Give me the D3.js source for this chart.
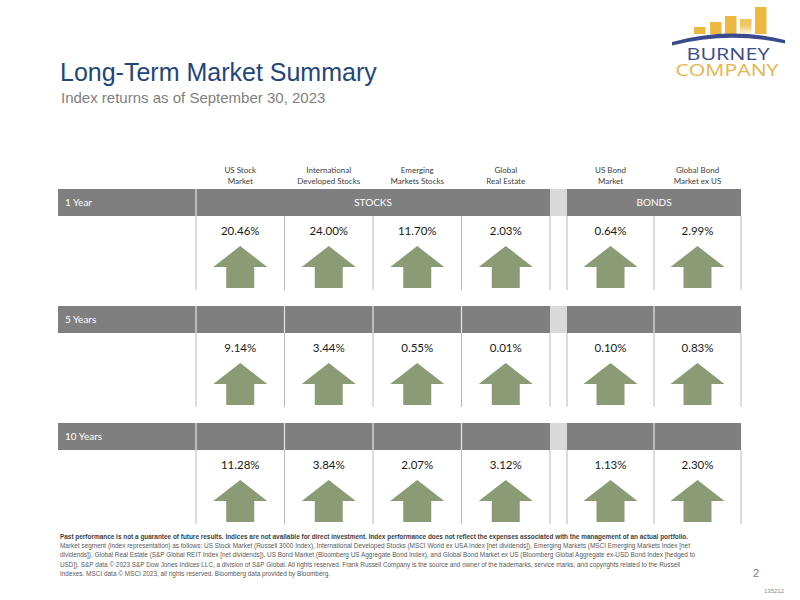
<!DOCTYPE html>
<html>
<head>
<meta charset="utf-8">
<script src="https://cdn.jsdelivr.net/npm/d3@7"></script>
<style>
  html, body { margin: 0; padding: 0; background: #ffffff; }
  svg { display: block; }
</style>
</head>
<body>
<svg id="chart" width="800" height="600"></svg>
<script>
// ---------- DATA ----------
const categories = ["US Stock Market", "International Developed Stocks", "Emerging Markets Stocks", "Global Real Estate", "US Bond Market", "Global Bond Market ex US"];
const headerLines = [["US Stock", "Market"], ["International", "Developed Stocks"], ["Emerging", "Markets Stocks"], ["Global", "Real Estate"], ["US Bond", "Market"], ["Global Bond", "Market ex US"]];
const stockCategories = ["US Stock Market", "International Developed Stocks", "Emerging Markets Stocks", "Global Real Estate"];
const bondCategories = ["US Bond Market", "Global Bond Market ex US"];
const groupLabels = ["STOCKS", "BONDS"];
const periods = ["1 Year", "5 Years", "10 Years"];
const returns1Y = [20.46, 24.00, 11.70, 2.03, 0.64, 2.99];
const returns5Y = [9.14, 3.44, 0.55, 0.01, 0.10, 0.83];
const returns10Y = [11.28, 3.84, 2.07, 3.12, 1.13, 2.30];
const returnsByPeriod = [returns1Y, returns5Y, returns10Y];

const footerLines = [
  "Past performance is not a guarantee of future results. Indices are not available for direct investment. Index performance does not reflect the expenses associated with the management of an actual portfolio.",
  "Market segment (index representation) as follows: US Stock Market (Russell 3000 Index), International Developed Stocks (MSCI World ex USA Index [net dividends]), Emerging Markets (MSCI Emerging Markets Index [net",
  "dividends]), Global Real Estate (S&P Global REIT Index [net dividends]), US Bond Market (Bloomberg US Aggregate Bond Index), and Global Bond Market ex US (Bloomberg Global Aggregate ex-USD Bond Index [hedged to",
  "USD]). S&P data © 2023 S&P Dow Jones Indices LLC, a division of S&P Global. All rights reserved. Frank Russell Company is the source and owner of the trademarks, service marks, and copyrights related to the Russell",
  "Indexes. MSCI data © MSCI 2023, all rights reserved. Bloomberg data provided by Bloomberg."
];
const footerWidths = [628, 630, 635, 620, 270];

// ---------- LAYOUT ----------
const svg = d3.select("#chart");
const labelLeft = 58;
const xStocks = d3.scaleBand().domain(stockCategories).range([196, 550]);
const xBonds = d3.scaleBand().domain(bondCategories).range([567, 741]);
const xCol = c => stockCategories.includes(c) ? xStocks(c) : xBonds(c);
const colW = c => stockCategories.includes(c) ? xStocks.bandwidth() : xBonds.bandwidth();
const y = d3.scaleBand().domain(periods).range([189, 189 + 117 * 3]);
const bandH = 27;

const gray = "#7f7f7f", lightGray = "#d9d9d9", arrowColor = "#8b9b75";
const calibri = "Lato, 'Open Sans', sans-serif";
const arial = "'Liberation Sans', Arial, sans-serif";

// ---------- TITLE ----------
svg.append("text").attr("x", 60).attr("y", 81)
  .attr("font-family", arial).attr("font-size", 25).attr("fill", "#22467a")
  .text("Long-Term Market Summary");
svg.append("text").attr("x", 61).attr("y", 103)
  .attr("font-family", arial).attr("font-size", 15).attr("fill", "#7f7f7f")
  .text("Index returns as of September 30, 2023");

// ---------- LOGO ----------
const logo = svg.append("g");
const logoBars = [[694, 27], [710, 22], [725, 16], [740, 19], [755, 7]];
const grad = svg.append("defs").append("linearGradient").attr("id", "barGrad")
  .attr("x1", 0).attr("y1", 1).attr("x2", 0).attr("y2", 0);
grad.append("stop").attr("offset", "0%").attr("stop-color", "#fff6dc");
grad.append("stop").attr("offset", "60%").attr("stop-color", "#f0c661");
logoBars.forEach((b, i) => {
  logo.append("rect").attr("x", b[0]).attr("y", b[1]).attr("width", 11.5).attr("height", 34 - b[1])
    .attr("fill", i === 3 ? "url(#barGrad)" : "#ecb83f");
});
logo.append("path")
  .attr("d", "M672,42 Q728,26 785,40 L785,43.5 Q728,31 672,45.5 Z")
  .attr("fill", "#3b4a8c");
logo.append("text").attr("x", 728).attr("y", 59.5).attr("text-anchor", "middle")
  .attr("font-family", "'Open Sans', sans-serif").attr("font-weight", 400).attr("font-size", 17)
  .attr("fill", "#3b4a8c").attr("textLength", 83).attr("lengthAdjust", "spacingAndGlyphs").text("BURNEY");
logo.append("text").attr("x", 727).attr("y", 76).attr("text-anchor", "middle")
  .attr("font-family", "'Open Sans', sans-serif").attr("font-weight", 400).attr("font-size", 17)
  .attr("fill", "#e7b44a").attr("textLength", 103).attr("lengthAdjust", "spacingAndGlyphs").text("COMPANY");

// ---------- COLUMN HEADERS ----------
const colHead = svg.append("g");
categories.forEach((c, i) => {
  const cx = xCol(c) + colW(c) / 2;
  headerLines[i].forEach((ln, j) => {
    colHead.append("text").attr("x", cx).attr("y", 173 + j * 11)
      .attr("text-anchor", "middle").attr("font-family", calibri).attr("font-size", 8)
      .attr("fill", "#404040").text(ln);
  });
});

// ---------- ROWS ----------
periods.forEach((p, ri) => {
  const top = y(p);
  const g = svg.append("g");
  g.append("rect").attr("x", labelLeft).attr("y", top).attr("width", 196 - labelLeft).attr("height", bandH).attr("fill", gray);
  g.append("rect").attr("x", 550).attr("y", top).attr("width", 17).attr("height", bandH).attr("fill", lightGray);
  if (ri === 0) {
    g.append("rect").attr("x", 196).attr("y", top).attr("width", 354).attr("height", bandH).attr("fill", gray);
    g.append("rect").attr("x", 567).attr("y", top).attr("width", 174).attr("height", bandH).attr("fill", gray);
    g.append("text").attr("x", (196 + 550) / 2).attr("y", top + bandH / 2 + 3.5).attr("text-anchor", "middle")
      .attr("font-family", calibri).attr("font-size", 10).attr("fill", "#ffffff").text(groupLabels[0]);
    g.append("text").attr("x", (567 + 741) / 2).attr("y", top + bandH / 2 + 3.5).attr("text-anchor", "middle")
      .attr("font-family", calibri).attr("font-size", 10).attr("fill", "#ffffff").text(groupLabels[1]);
  } else {
    categories.forEach(c => {
      g.append("rect").attr("x", xCol(c)).attr("y", top).attr("width", colW(c)).attr("height", bandH).attr("fill", gray);
    });
  }
  const dividerXs = ri === 0 ? [196] : [196].concat(categories.slice(1).filter(c => c !== bondCategories[0]).map(xCol));
  dividerXs.forEach(dx => {
    g.append("line").attr("x1", dx).attr("x2", dx).attr("y1", top).attr("y2", top + bandH)
      .attr("stroke", "#e6e6e6").attr("stroke-width", 1.2);
  });
  g.append("text").attr("x", 65).attr("y", top + bandH / 2 + 3.5)
    .attr("font-family", calibri).attr("font-size", 10).attr("fill", "#ffffff").text(p);

  const gridXs = [196, 550, 567, 741].concat(categories.filter(c => c !== categories[0] && c !== bondCategories[0]).map(xCol));
  gridXs.forEach(gx => {
    g.append("line").attr("x1", gx).attr("x2", gx).attr("y1", top + bandH).attr("y2", top + 101)
      .attr("stroke", "#b8b8b8").attr("stroke-width", 1);
  });

  const vals = returnsByPeriod[ri];
  categories.forEach((c, ci) => {
    const cx = xCol(c) + colW(c) / 2;
    const v = vals[ci];
    g.append("text").attr("x", cx).attr("y", top + 46)
      .attr("text-anchor", "middle").attr("font-family", calibri).attr("font-size", 11.5)
      .attr("fill", "#1a1a1a").text(v.toFixed(2) + "%");
    const dir = v >= 0 ? 1 : -1;
    const tip = top + 57, wing = top + 78, base = top + 99;
    const hw = 27, sw = 14;
    const pth = d3.path();
    if (dir > 0) {
      pth.moveTo(cx, tip);
      pth.lineTo(cx + hw, wing);
      pth.lineTo(cx + sw, wing);
      pth.lineTo(cx + sw, base);
      pth.lineTo(cx - sw, base);
      pth.lineTo(cx - sw, wing);
      pth.lineTo(cx - hw, wing);
    } else {
      pth.moveTo(cx, base);
      pth.lineTo(cx + hw, wing);
      pth.lineTo(cx + sw, wing);
      pth.lineTo(cx + sw, tip);
      pth.lineTo(cx - sw, tip);
      pth.lineTo(cx - sw, wing);
      pth.lineTo(cx - hw, wing);
    }
    pth.closePath();
    g.append("path").attr("d", pth.toString()).attr("fill", arrowColor);
  });
});

// ---------- FOOTER ----------
footerLines.forEach((ln, i) => {
  svg.append("text").attr("x", 60).attr("y", 539 + i * 9.2)
    .attr("font-family", arial).attr("font-size", 6.8)
    .attr("font-weight", i === 0 ? "bold" : "normal")
    .attr("fill", i === 0 ? "#404040" : "#595959")
    .attr("textLength", footerWidths[i]).attr("lengthAdjust", "spacingAndGlyphs")
    .text(ln);
});
svg.append("text").attr("x", 753).attr("y", 577).attr("font-family", arial).attr("font-size", 11).attr("fill", "#7f7f7f").text("2");
svg.append("text").attr("x", 764).attr("y", 593).attr("font-family", arial).attr("font-size", 6).attr("fill", "#8c8c8c").text("135212");
</script>
</body>
</html>
